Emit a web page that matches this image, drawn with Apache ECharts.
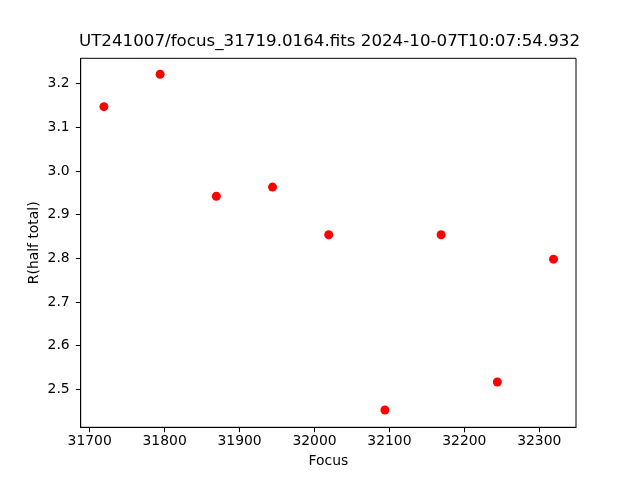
<!DOCTYPE html>
<html>
<head>
<meta charset="utf-8">
<script src="https://cdn.jsdelivr.net/npm/echarts@6/dist/echarts.min.js"></script>
<style>html,body{margin:0;padding:0;background:#fff}#c{width:640px;height:480px}</style>
</head>
<body>
<div id="c"></div>
<script>
const focusValues = [31719, 31794, 31869, 31944, 32019, 32094, 32169, 32244, 32319];
const rHalfTotal = [3.147, 3.221, 2.942, 2.963, 2.854, 2.453, 2.854, 2.517, 2.798];
const xTicks = [31700, 31800, 31900, 32000, 32100, 32200, 32300];
const yTicks = [2.5, 2.6, 2.7, 2.8, 2.9, 3.0, 3.1, 3.2];
const titleText = 'UT241007/focus_31719.0164.fits 2024-10-07T10:07:54.932';

const font = 'DejaVu Sans';
const chart = echarts.init(document.getElementById('c'), null, {renderer: 'canvas'});
chart.setOption({
  backgroundColor: '#fff',
  animation: false,
  title: {
    text: titleText,
    left: 324.5,
    textAlign: 'center',
    top: 28,
    textStyle: {fontFamily: font, fontSize: 16.7, fontWeight: 'normal', color: '#000'}
  },
  grid: {left: 80.7, right: 64, top: 58.3, bottom: 52.7, show: true, borderColor: '#000', borderWidth: 1, containLabel: false},
  xAxis: {
    type: 'value',
    min: 31688, max: 32349,
    name: 'Focus', nameLocation: 'middle', nameGap: 27, nameMoveOverlap: false,
    nameTextStyle: {fontFamily: font, fontSize: 13.9, color: '#000'},
    axisLine: {show: true, onZero: false, lineStyle: {color: '#000', width: 1}},
    splitLine: {show: false},
    axisTick: {show: true, inside: false, length: 4.9, lineStyle: {color: '#000'}, customValues: xTicks},
    axisLabel: {fontFamily: font, fontSize: 13.9, color: '#000', margin: 7, customValues: xTicks, formatter: v => String(v)}
  },
  yAxis: {
    type: 'value',
    min: 2.4134, max: 3.2576,
    name: 'R(half total)', nameLocation: 'middle', nameGap: 39, nameMoveOverlap: false,
    nameTextStyle: {fontFamily: font, fontSize: 13.9, color: '#000'},
    axisLine: {show: true, onZero: false, lineStyle: {color: '#000', width: 1}},
    splitLine: {show: false},
    axisTick: {show: true, inside: false, length: 4.9, lineStyle: {color: '#000'}, customValues: yTicks},
    axisLabel: {fontFamily: font, fontSize: 13.9, color: '#000', margin: 11, customValues: yTicks, formatter: v => v.toFixed(1)}
  },
  series: [{
    type: 'scatter',
    symbol: 'circle',
    symbolSize: 9,
    itemStyle: {color: '#ff0000', opacity: 1},
    data: focusValues.map((f, i) => [f, rHalfTotal[i]])
  }]
});
</script>
</body>
</html>
